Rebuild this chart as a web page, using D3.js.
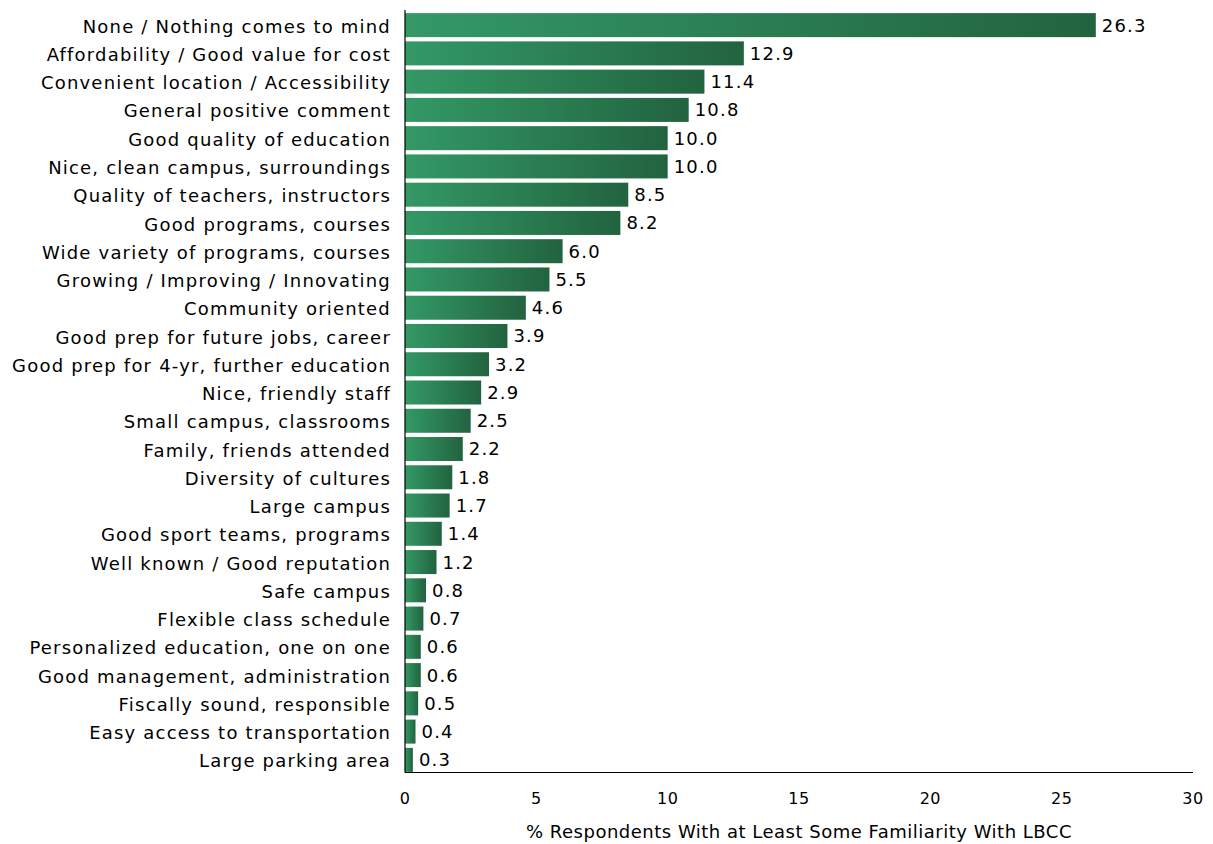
<!DOCTYPE html>
<html><head><meta charset="utf-8">
<script src="https://cdn.jsdelivr.net/npm/d3@7"></script>
<style>body{margin:0;background:#fff;} text{font-family:"DejaVu Sans",Verdana,sans-serif;fill:#000;}</style>
</head><body>
<svg id="c" width="1213" height="844"></svg>
<script>
const categories = ["None / Nothing comes to mind","Affordability / Good value for cost","Convenient location / Accessibility","General positive comment","Good quality of education","Nice, clean campus, surroundings","Quality of teachers, instructors","Good programs, courses","Wide variety of programs, courses","Growing / Improving / Innovating","Community oriented","Good prep for future jobs, career","Good prep for 4-yr, further education","Nice, friendly staff","Small campus, classrooms","Family, friends attended","Diversity of cultures","Large campus ","Good sport teams, programs","Well known / Good reputation","Safe campus","Flexible class schedule","Personalized education, one on one","Good management, administration","Fiscally sound, responsible","Easy access to transportation","Large parking area"];
const values = [26.3,12.9,11.4,10.8,10.0,10.0,8.5,8.2,6.0,5.5,4.6,3.9,3.2,2.9,2.5,2.2,1.8,1.7,1.4,1.2,0.8,0.7,0.6,0.6,0.5,0.4,0.3];
const xTicks = [0,5,10,15,20,25,30];
const xTitle = "% Respondents With at Least Some Familiarity With LBCC";

const svg = d3.select("#c");
const x = d3.scaleLinear().domain([0,30]).range([405,1193]);
const y = d3.scaleBand().domain(categories).range([11,774]).paddingInner(0.15).paddingOuter(0.075);

const defs = svg.append("defs");
const g = defs.append("linearGradient").attr("id","gr").attr("x1","0").attr("x2","1").attr("y1","0").attr("y2","0");
g.append("stop").attr("offset","0").attr("stop-color","#339966");
g.append("stop").attr("offset","1").attr("stop-color","#22633f");

const data = categories.map((c,i)=>({c, v: values[i]}));

svg.selectAll("rect.bar").data(data).join("rect").attr("class","bar")
  .attr("x", x(0)).attr("y", d=>y(d.c)).attr("width", d=>x(d.v)-x(0)).attr("height", y.bandwidth())
  .attr("fill","url(#gr)");

svg.selectAll("text.cat").data(data).join("text").attr("class","cat")
  .attr("x", 391).attr("y", d=>y(d.c)+y.bandwidth()/2).attr("dy","0.42em")
  .attr("text-anchor","end").style("font-size","18px").style("letter-spacing","1.2px").text(d=>d.c);

svg.selectAll("text.val").data(data).join("text").attr("class","val")
  .attr("x", d=>x(d.v)+6).attr("y", d=>y(d.c)+y.bandwidth()/2).attr("dy","0.36em")
  .style("font-size","18px").style("letter-spacing","1.2px").text(d=>d.v.toFixed(1));

// axes lines
svg.append("line").attr("x1",x(0)).attr("x2",x(0)).attr("y1",10).attr("y2",772.5).attr("stroke","#000").attr("stroke-width",1.2);
svg.append("line").attr("x1",x(0)).attr("x2",x(30)).attr("y1",772.5).attr("y2",772.5).attr("stroke","#000").attr("stroke-width",1.2);

svg.selectAll("text.tick").data(xTicks).join("text").attr("class","tick")
  .attr("x", d=>x(d)).attr("y", 804).attr("text-anchor","middle").style("font-size","16px").style("letter-spacing","0.5px").text(d=>d);

svg.append("text").attr("x", x(15)).attr("y", 838).attr("text-anchor","middle").style("font-size","18px").style("letter-spacing","0.5px").text(xTitle);
</script>
</body></html>
